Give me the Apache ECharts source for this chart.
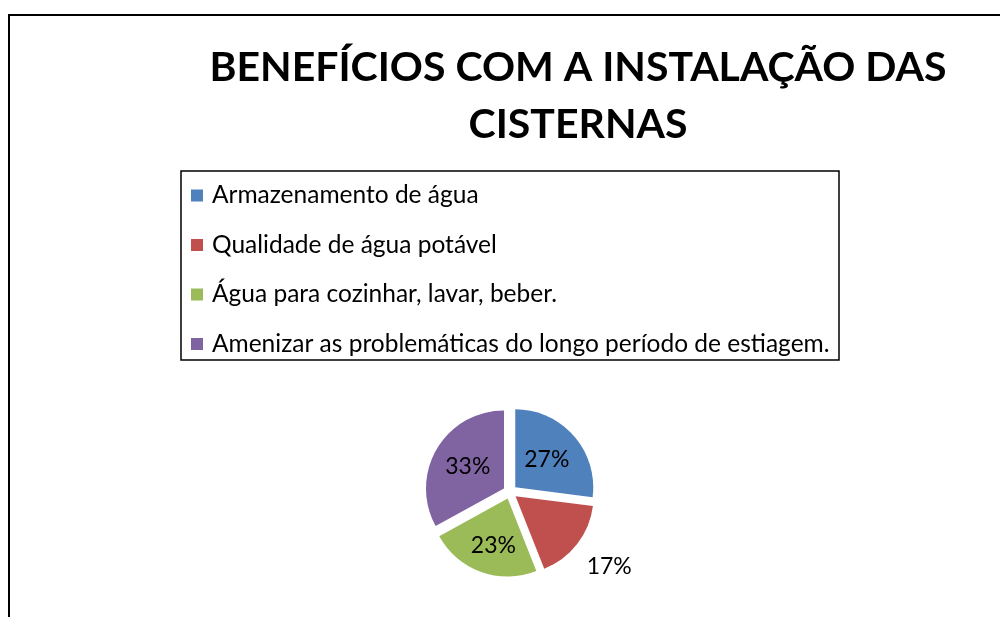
<!DOCTYPE html>
<html>
<head>
<meta charset="utf-8">
<script src="https://cdn.jsdelivr.net/npm/echarts@6/dist/echarts.min.js"></script>
<style>
  html, body { margin: 0; padding: 0; background: #fff; }
  #chart { width: 1000px; height: 617px; }
</style>
</head>
<body>
<div id="chart"></div>
<script>
var titleText = 'BENEFÍCIOS COM A INSTALAÇÃO DAS\nCISTERNAS';
var categories = [
  'Armazenamento de água',
  'Qualidade de água potável',
  'Água para cozinhar, lavar, beber.',
  'Amenizar as problemáticas do longo período de estiagem.'
];
var values = [27, 17, 23, 33];
var colors = ['#4F81BD', '#C0504D', '#9BBB59', '#8064A2'];

var pieData = [];
for (var i = 0; i < categories.length; i++) {
  var item = {
    name: categories[i],
    value: values[i],
    selected: true,
    itemStyle: { color: colors[i] }
  };
  // the small red slice has its label outside, a bit lower
  if (i == 1) {
    item.label = { position: 'outside', distanceToLabelLine: 0, formatter: '\n{d}%', lineHeight: 30 };
    item.labelLine = { show: false, length: 12, length2: 0 };
  }
  if (i == 2) {
    item.label = { formatter: '\n{d}%', lineHeight: 14 };
  }
  pieData.push(item);
}

var myChart = echarts.init(document.getElementById('chart'));
myChart.setOption({
  animation: false,
  title: {
    text: titleText,
    left: 573,
    top: 34,
    textAlign: 'center',
    textStyle: {
      fontFamily: 'Lato',
      fontWeight: 'bold',
      fontSize: 41,
      lineHeight: 57,
      color: '#000'
    }
  },
  legend: {
    orient: 'vertical',
    left: 191,
    top: 183,
    padding: 0,
    itemWidth: 12,
    itemHeight: 12,
    itemGap: 24.5,
    icon: 'rect',
    selectedMode: false,
    textStyle: {
      fontFamily: 'Lato',
      fontSize: 24.5,
      lineHeight: 24,
      color: '#000',
      padding: [0, 0, 0, 4]
    },
    data: categories
  },
  graphic: [
    {
      type: 'rect',
      shape: { x: 9, y: 15, width: 1000, height: 620 },
      style: { fill: 'none', stroke: '#000', lineWidth: 2 }
    },
    {
      type: 'rect',
      shape: { x: 181, y: 171, width: 658, height: 189 },
      style: { fill: 'none', stroke: '#000', lineWidth: 1.5 }
    }
  ],
  series: [
    {
      type: 'pie',
      center: [510, 492],
      radius: 78,
      startAngle: 90,
      clockwise: true,
      selectedMode: 'multiple',
      selectedOffset: 7,
      silent: true,
      label: {
        show: true,
        position: 'inside',
        formatter: '{d}%',
        fontFamily: 'Lato',
        fontSize: 23,
        color: '#000'
      },
      itemStyle: { borderColor: '#fff', borderWidth: 0 },
      emphasis: { disabled: true },
      data: pieData
    }
  ]
});
</script>
</body>
</html>
